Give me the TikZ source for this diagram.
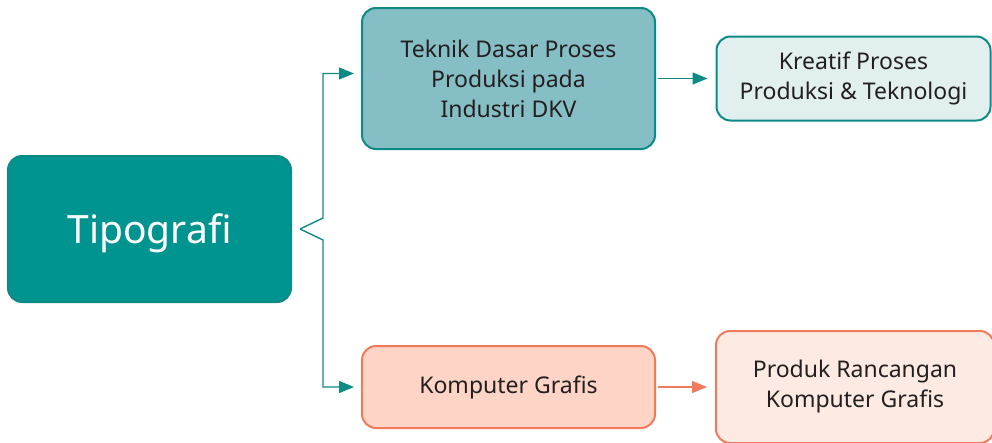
\documentclass[tikz,border=0pt]{standalone}
\usepackage{fontspec}
\setmainfont{Noto Sans}
\usetikzlibrary{arrows.meta}

\definecolor{tealdark}{RGB}{0,148,144}
\definecolor{tealline}{RGB}{14,138,133}
\definecolor{tealmid}{RGB}{133,190,196}
\definecolor{teallight}{RGB}{226,239,239}
\definecolor{orangeline}{RGB}{241,122,92}
\definecolor{orangemid}{RGB}{253,212,197}
\definecolor{orangelight}{RGB}{253,235,227}
\definecolor{textdark}{RGB}{35,31,32}

\tikzset{
  box/.style={rectangle,rounded corners=14pt,line width=2pt,align=center,
    inner sep=0pt,text=textdark,font=\fontsize{23}{30}\selectfont},
  tealbox/.style={box,draw=tealline},
  orangebox/.style={box,draw=orangeline},
  link/.style={-{Triangle[length=15pt,width=12pt]},line width=1.4pt}
}

\begin{document}
\begin{tikzpicture}[x=1pt,y=-1pt]
    \useasboundingbox (0,0) rectangle (992,442);

    \node (tipo) [tealbox,fill=tealdark,text=white,text depth=0pt,
        minimum width=283pt,minimum height=146pt,
        font=\fontsize{39}{44}\selectfont] at (149.5,229) {Tipografi};
    \node (teknik) [tealbox,fill=tealmid,minimum width=293pt,minimum height=141pt]
        at (508.5,78.5) {Teknik Dasar Proses\\Produksi pada\\Industri DKV};
    \node (kreatif) [tealbox,fill=teallight,minimum width=274pt,minimum height=84pt]
        at (853.5,78.5) {Kreatif Proses\\Produksi \& Teknologi};
    \node (komputer) [orangebox,fill=orangemid,minimum width=293pt,minimum height=82pt]
        at (508.5,387) {Komputer Grafis};
    \node (produk) [orangebox,fill=orangelight,minimum width=278pt,minimum height=112pt]
        at (855,387) {Produk Rancangan\\Komputer Grafis};

    %% brace from Tipografi to both branches
    \draw [link,draw=tealline,shorten >=7pt]
        ([xshift=8pt]tipo.east) -- ++(23,-11) |- ([yshift=5pt]teknik.west);
    \draw [link,draw=tealline,shorten >=7pt]
        ([xshift=8pt]tipo.east) -- ++(23,11) |- (komputer.west);

    \draw [link,draw=tealline,shorten <=2pt,shorten >=8pt]
        (teknik.east) -- (kreatif.west);
    \draw [link,draw=orangeline,shorten <=2pt,shorten >=8pt]
        (komputer.east) -- (produk.west);
\end{tikzpicture}
\end{document}
